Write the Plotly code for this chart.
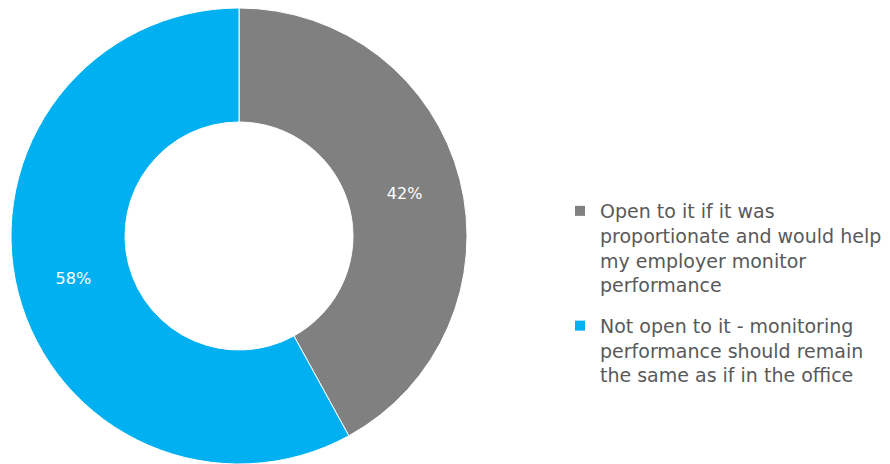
import plotly.graph_objects as go

labels = [
    "Open to it if it was<br>proportionate and would help<br>my employer monitor<br>performance",
    "Not open to it - monitoring<br>performance should remain<br>the same as if in the office",
]
values = [42, 58]
colors = ["#808080", "#00B0F0"]

W, H = 890, 464
# page body has an 8px margin, so work in figure coords
cx, cy, r = 231, 228, 228

fig = go.Figure()
fig.add_trace(
    go.Pie(
        labels=labels,
        values=values,
        hole=0.5,
        sort=False,
        direction="clockwise",
        rotation=0,
        marker=dict(colors=colors, line=dict(color="white", width=1)),
        texttemplate="%{percent:.0%}",
        textposition="inside",
        insidetextorientation="horizontal",
        textfont=dict(color="white", size=16, family="DejaVu Sans"),
        showlegend=False,
        domain=dict(x=[(cx - r) / W, (cx + r) / W], y=[(H - cy - r) / H, (H - cy + r) / H]),
    )
)

# legend entries (own groups so the gap between them can be set)
for lab, col in zip(labels, colors):
    fig.add_trace(
        go.Scatter(
            x=[None], y=[None], mode="markers", name=lab, legendgroup=lab,
            marker=dict(symbol="square", size=10, color=col),
            hoverinfo="skip",
        )
    )

fig.update_layout(
    width=W,
    height=H,
    margin=dict(l=0, r=0, t=0, b=0),
    paper_bgcolor="white",
    plot_bgcolor="white",
    xaxis=dict(visible=False),
    yaxis=dict(visible=False),
    font=dict(family="DejaVu Sans", color="#595959"),
    showlegend=True,
    legend=dict(
        x=552 / W,
        xanchor="left",
        y=1 - 184 / H,
        yanchor="top",
        valign="top",
        tracegroupgap=13,
        font=dict(size=19, color="#595959"),
        itemwidth=30,
    ),
)

fig.write_html("out.html")
